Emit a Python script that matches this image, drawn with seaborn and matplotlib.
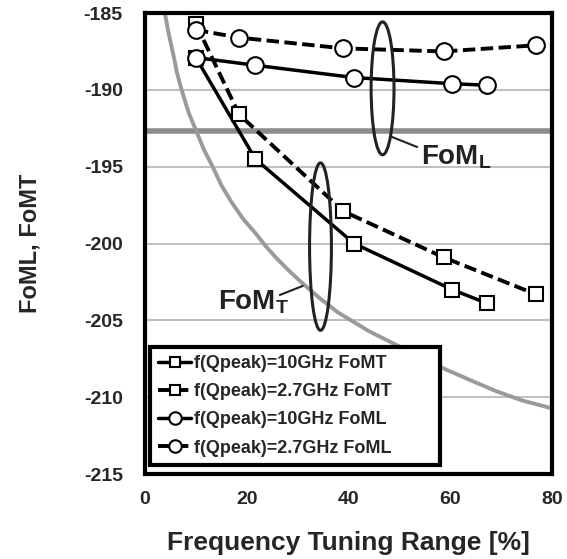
import numpy as np
import pandas as pd
import matplotlib
matplotlib.use("Agg")
import matplotlib.pyplot as plt
from matplotlib.patches import Ellipse
import seaborn as sns

# data
ftr_10 = [10, 21.7, 41.1, 60.4, 67.3]
ftr_27 = [10, 18.5, 39.0, 58.7, 76.8]
fomt_10 = [-187.9, -194.5, -200.0, -203.0, -203.9]
fomt_27 = [-185.7, -191.6, -197.9, -200.9, -203.3]
foml_10 = [-187.9, -188.4, -189.2, -189.6, -189.7]
foml_27 = [-186.1, -186.6, -187.3, -187.5, -187.1]

ref_foml = -192.7
ref_x = [3.9, 4.7, 5.5, 6.3, 7.2, 8.6, 10.1, 11.6, 13.3, 15.0, 17.0, 19.3, 21.9, 23.8,
         26.0, 28.4, 31.0, 34.5, 38.0, 44.0, 50.0, 57.8, 64.0, 69.0, 74.0, 79.7]
ref_fomt = [-185.0, -186.4, -187.6, -188.9, -190.0, -191.5, -192.7, -193.9, -195.0,
            -196.2, -197.3, -198.4, -199.4, -200.2, -201.0, -201.8, -202.6, -203.6,
            -204.5, -205.7, -206.7, -208.0, -208.9, -209.6, -210.2, -210.7]

labels = ["f(Qpeak)=10GHz FoMT", "f(Qpeak)=2.7GHz FoMT",
          "f(Qpeak)=10GHz FoML", "f(Qpeak)=2.7GHz FoML"]

sns.set_style("white")
plt.rcParams["font.family"] = ["Liberation Sans", "DejaVu Sans"]
plt.rcParams["font.weight"] = "bold"
plt.rcParams["axes.unicode_minus"] = False

fig = plt.figure(figsize=(5.67, 5.59), dpi=100)
ax = fig.add_axes([0.2557, 0.152, 0.7178, 0.8247])

for v in [-190, -195, -200, -205, -210]:
    ax.axhline(v, color="#c0c0c0", lw=1.5, zorder=0)

ax.axhline(ref_foml, color="#8c8c8c", lw=4, zorder=1)
sns.lineplot(x=ref_x, y=ref_fomt, ax=ax, color="#9a9a9a", lw=2.8, sort=False,
             errorbar=None, zorder=1)

mk = dict(markerfacecolor="white", markeredgecolor="black", markeredgewidth=1.5)
dash = (0, (3.2, 1.4))
sns.lineplot(x=ftr_10, y=fomt_10, ax=ax, color="black", lw=2.5, marker="s", ms=9.5,
             sort=False, errorbar=None, label=labels[0], zorder=3, **mk)
sns.lineplot(x=ftr_27, y=fomt_27, ax=ax, color="black", lw=2.8, marker="s", ms=9.5,
             linestyle=dash, sort=False, errorbar=None, label=labels[1],
             zorder=3, **mk)
sns.lineplot(x=ftr_10, y=foml_10, ax=ax, color="black", lw=2.5, marker="o", ms=12,
             sort=False, errorbar=None, label=labels[2], zorder=4, **mk)
sns.lineplot(x=ftr_27, y=foml_27, ax=ax, color="black", lw=2.8, marker="o", ms=12,
             linestyle=dash, sort=False, errorbar=None, label=labels[3],
             zorder=4, **mk)

# ellipses and annotations
ax.add_patch(Ellipse((46.7, -189.9), 4.5, 8.65, fill=False, ec="#222222", lw=2.2, zorder=5))
ax.add_patch(Ellipse((34.5, -200.2), 4.3, 10.9, fill=False, ec="#222222", lw=2.2, zorder=5))
ax.plot([48.6, 53.5], [-193.07, -193.72], color="#222222", lw=1.5, zorder=5)
ax.plot([31.0, 26.5], [-202.76, -203.35], color="#222222", lw=1.5, zorder=5)
ax.text(54.3, -194.4, "FoM$_\\mathregular{L}$", fontsize=20, fontweight="bold",
        color="#222222", va="center", ha="left")
ax.text(14.3, -203.8, "FoM$_\\mathregular{T}$", fontsize=20, fontweight="bold",
        color="#222222", va="center", ha="left")

ax.set_xlim(0, 80)
ax.set_ylim(-215, -185)
ax.set_xticks([0, 20, 40, 60, 80])
ax.set_yticks([-215, -210, -205, -200, -195, -190, -185])
ax.tick_params(axis="both", direction="in", length=6, width=1.2, labelsize=14, color="black")
ax.tick_params(axis="x", pad=12)
ax.tick_params(axis="y", pad=16)
for lab in ax.get_xticklabels() + ax.get_yticklabels():
    lab.set_fontweight("bold")
for s in ax.spines.values():
    s.set_linewidth(3)
    s.set_color("black")

ax.set_xlabel("Frequency Tuning Range [%]", fontsize=19, fontweight="bold", labelpad=17)
ax.set_ylabel("FoML, FoMT", fontsize=17, fontweight="bold", labelpad=30)

leg = ax.legend(loc="lower left", bbox_to_anchor=(0.012, 0.02, 0.713, 0.25),
                mode="expand", borderaxespad=0,
                fancybox=False, framealpha=1, edgecolor="black", handlelength=1.85,
                handletextpad=0.15, markerscale=0.75, labelspacing=0.62,
                prop={"weight": "bold", "size": 13}, borderpad=0.45)
leg.get_frame().set_linewidth(3)
leg.set_zorder(6)

fig.savefig("out.png", dpi=100)
